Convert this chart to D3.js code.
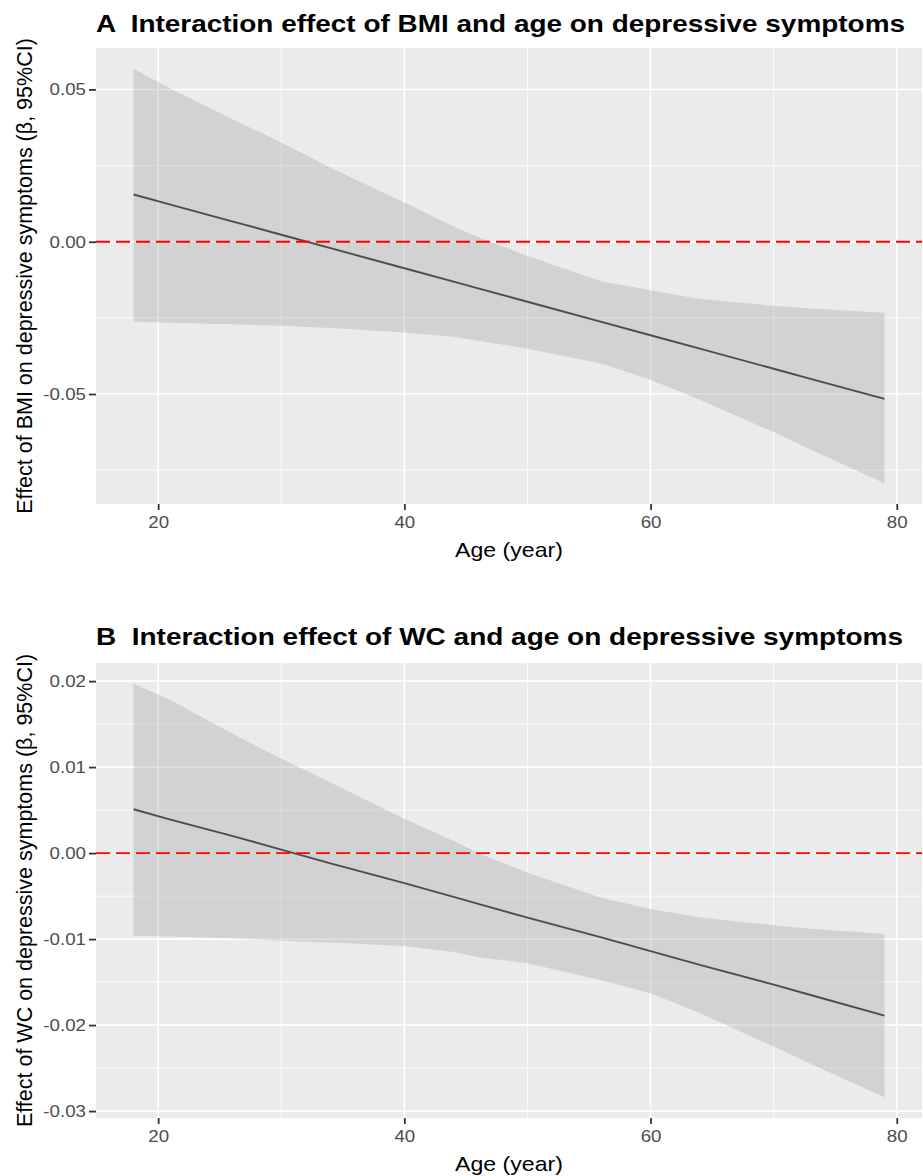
<!DOCTYPE html>
<html>
<head>
<meta charset="utf-8">
<script src="https://cdn.jsdelivr.net/npm/d3@7"></script>
<style>
  body { margin: 0; background: #fff; }
  text { font-family: "Liberation Sans", Arial, sans-serif; }
</style>
</head>
<body>
<script>
// values (age in years, beta)
let ages = [18, 21, 26, 30, 34, 40, 44, 46, 50, 56, 60, 64, 70, 73, 79];

let bmiFit   = [0.0155, 0.0122, 0.0067, 0.0023, -0.0021, -0.0087, -0.0131, -0.0153, -0.0197, -0.0263, -0.0307, -0.0351, -0.0417, -0.0450, -0.0516];
let bmiLower = [-0.0263, -0.0266, -0.0271, -0.0276, -0.0283, -0.0298, -0.0312, -0.0325, -0.0351, -0.0400, -0.0453, -0.0519, -0.0625, -0.0682, -0.0793];
let bmiUpper = [0.0568, 0.0502, 0.0403, 0.0326, 0.0243, 0.0129, 0.0050, 0.0015, -0.0047, -0.0130, -0.0159, -0.0188, -0.0210, -0.0219, -0.0233];

let wcFit   = [0.0051, 0.0039, 0.0020, 0.0004, -0.0012, -0.0035, -0.0051, -0.0059, -0.0075, -0.0098, -0.0114, -0.0130, -0.0153, -0.0165, -0.0189];
let wcLower = [-0.0096, -0.0097, -0.0099, -0.0102, -0.0104, -0.0108, -0.0115, -0.0121, -0.0128, -0.0148, -0.0163, -0.0186, -0.0225, -0.0245, -0.0284];
let wcUpper = [0.0197, 0.0178, 0.0139, 0.0110, 0.0082, 0.0040, 0.0014, 0.0000, -0.0023, -0.0052, -0.0065, -0.0075, -0.0084, -0.0088, -0.0094];

let xTicks = [20, 40, 60, 80];
let xMinor = [30, 50, 70];
let bmiYTicks = [-0.05, 0.00, 0.05];
let bmiYMinor = [-0.075, -0.025, 0.025];
let wcYTicks = [-0.03, -0.02, -0.01, 0.00, 0.01, 0.02];
let wcYMinor = [-0.025, -0.015, -0.005, 0.005, 0.015];

let width = 923, height = 1176;

let svg = d3.select('body')
            .append('svg')
            .attr('width', width)
            .attr('height', height);

// ggplot style 5% expansion
function expand(ext) {
  let pad = (ext[1] - ext[0]) * 0.05;
  return [ext[0] - pad, ext[1] + pad];
}

// the source figure is a bit wider than tall, stretch text to match
function stretch(sel, k) {
  sel.each(function() {
    let w = this.getComputedTextLength();
    d3.select(this).attr('textLength', w * k).attr('lengthAdjust', 'spacingAndGlyphs');
  });
}

function panel(opts) {
  let left = 96, right = 922, top = opts.top, bottom = opts.bottom;

  let x = d3.scaleLinear().domain(expand(d3.extent(ages))).range([left, right]);
  let y = d3.scaleLinear()
            .domain(expand([d3.min(opts.lower), d3.max(opts.upper)]))
            .range([bottom, top]);

  let g = svg.append('g');

  // panel background
  g.append('rect')
   .attr('x', left).attr('y', top)
   .attr('width', right - left).attr('height', bottom - top)
   .attr('fill', '#EBEBEB');

  // minor grid
  g.selectAll('.xminor').data(xMinor).enter().append('line')
   .attr('x1', d => x(d)).attr('x2', d => x(d))
   .attr('y1', top).attr('y2', bottom)
   .attr('stroke', '#fff').attr('stroke-width', 0.8);
  g.selectAll('.yminor').data(opts.yMinor).enter().append('line')
   .attr('x1', left).attr('x2', right)
   .attr('y1', d => y(d)).attr('y2', d => y(d))
   .attr('stroke', '#fff').attr('stroke-width', 0.8);

  // major grid
  g.selectAll('.xmajor').data(xTicks).enter().append('line')
   .attr('x1', d => x(d)).attr('x2', d => x(d))
   .attr('y1', top).attr('y2', bottom)
   .attr('stroke', '#fff').attr('stroke-width', 1.6);
  g.selectAll('.ymajor').data(opts.yTicks).enter().append('line')
   .attr('x1', left).attr('x2', right)
   .attr('y1', d => y(d)).attr('y2', d => y(d))
   .attr('stroke', '#fff').attr('stroke-width', 1.6);

  let rows = ages.map((a, i) => ({age: a, fit: opts.fit[i], lo: opts.lower[i], hi: opts.upper[i]}));

  // confidence band
  let area = d3.area()
               .x(d => x(d.age))
               .y0(d => y(d.lo))
               .y1(d => y(d.hi));
  g.append('path')
   .datum(rows)
   .attr('d', area)
   .attr('fill', '#999999')
   .attr('fill-opacity', 0.3);

  // fitted line
  let line = d3.line()
               .x(d => x(d.age))
               .y(d => y(d.fit));
  g.append('path')
   .datum(rows)
   .attr('d', line)
   .attr('fill', 'none')
   .attr('stroke', '#4D4D4D')
   .attr('stroke-width', 1.9);

  // reference line at zero
  g.append('line')
   .attr('x1', left).attr('x2', right)
   .attr('y1', y(0)).attr('y2', y(0))
   .attr('stroke', '#FF0000')
   .attr('stroke-width', 1.9)
   .attr('stroke-dasharray', '14,6');

  // axes
  let yAxis = g.append('g')
               .attr('transform', 'translate(' + left + ',0)')
               .call(d3.axisLeft(y).tickValues(opts.yTicks)
                       .tickFormat(d => d.toFixed(2))
                       .tickSize(7).tickPadding(3).tickSizeOuter(0));
  let xAxis = g.append('g')
               .attr('transform', 'translate(0,' + bottom + ')')
               .call(d3.axisBottom(x).tickValues(xTicks)
                       .tickSize(6).tickPadding(6)
                       .tickSizeOuter(0));

  [yAxis, xAxis].forEach(a => {
    a.select('.domain').remove();
    a.selectAll('.tick line').attr('stroke', '#333333').attr('stroke-width', 1.8);
    a.selectAll('.tick text')
     .attr('fill', '#4D4D4D')
     .style('font-size', '17px')
     .style('font-family', '"Liberation Sans", Arial, sans-serif');
    stretch(a.selectAll('.tick text'), 1.1);
  });

  // title
  svg.append('text')
     .attr('x', left)
     .attr('y', opts.titleY)
     .attr('font-size', '24.5px')
     .attr('font-weight', 'bold')
     .attr('fill', '#000')
     .attr('xml:space', 'preserve')
     .attr('textLength', opts.titleW)
     .attr('lengthAdjust', 'spacingAndGlyphs')
     .text(opts.title);

  // axis titles
  let xt = svg.append('text')
     .attr('x', (left + right) / 2)
     .attr('y', bottom + 53)
     .attr('text-anchor', 'middle')
     .attr('font-size', '21px')
     .attr('fill', '#000')
     .text('Age (year)');
  stretch(xt, 1.1);

  svg.append('text')
     .attr('transform', 'translate(32,' + (top + bottom) / 2 + ') rotate(-90)')
     .attr('text-anchor', 'middle')
     .attr('font-size', '21.5px')
     .attr('fill', '#000')
     .text(opts.yTitle);
}

panel({
  top: 48, bottom: 504, titleY: 32, titleW: 809,
  fit: bmiFit, lower: bmiLower, upper: bmiUpper,
  yTicks: bmiYTicks, yMinor: bmiYMinor,
  title: 'A  Interaction effect of BMI and age on depressive symptoms',
  yTitle: 'Effect of BMI on depressive symptoms (β, 95%CI)'
});

panel({
  top: 663, bottom: 1118, titleY: 645, titleW: 807,
  fit: wcFit, lower: wcLower, upper: wcUpper,
  yTicks: wcYTicks, yMinor: wcYMinor,
  title: 'B  Interaction effect of WC and age on depressive symptoms',
  yTitle: 'Effect of WC on depressive symptoms (β, 95%CI)'
});
</script>
</body>
</html>
